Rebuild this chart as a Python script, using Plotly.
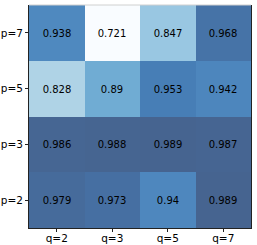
import plotly.graph_objects as go

q_labels = ["q=2", "q=3", "q=5", "q=7"]
p_labels = ["p=2", "p=3", "p=5", "p=7"]
row_p2 = [0.979, 0.973, 0.94, 0.989]
row_p3 = [0.986, 0.988, 0.989, 0.987]
row_p5 = [0.828, 0.89, 0.953, 0.942]
row_p7 = [0.938, 0.721, 0.847, 0.968]

z = [row_p2, row_p3, row_p5, row_p7]
text = [[str(v) for v in r] for r in z]

blues = ["#f7fbff", "#deebf7", "#c6dbef", "#9ecae1", "#6baed6",
         "#4292c6", "#2171b5", "#08519c", "#08306b"]
alpha = 0.75
def blend(h):
    r, g, b = int(h[1:3], 16), int(h[3:5], 16), int(h[5:7], 16)
    f = lambda c: round((1 - alpha) * 255 + alpha * c)
    return f"rgb({f(r)},{f(g)},{f(b)})"
colorscale = [[i / 8, blend(c)] for i, c in enumerate(blues)]

fig = go.Figure(go.Heatmap(
    x=q_labels, y=p_labels, z=z, text=text, texttemplate="%{text}",
    textfont=dict(color="black", size=10, family="DejaVu Sans"),
    colorscale=colorscale, showscale=False, xgap=0, ygap=0, hoverinfo="skip",
))
fig.update_layout(
    width=257, height=245, margin=dict(l=29, r=6, t=5, b=17, autoexpand=False),
    paper_bgcolor="white", plot_bgcolor="white",
    font=dict(family="DejaVu Sans", size=10, color="black"),
    shapes=[dict(type="line", xref="paper", yref="paper", x0=0, x1=1, y0=1, y1=1,
                 line=dict(color="#d0d0d0", width=1))],
)
fig.update_xaxes(showline=True, linecolor="#222", linewidth=1, ticks="outside",
                 ticklen=3, tickcolor="#222", showgrid=False, tickfont=dict(size=10.5),
                 automargin=False, ticklabelstandoff=-3)
fig.update_yaxes(showline=True, mirror=True, linecolor="#222", linewidth=1, ticks="outside",
                 ticklen=3, tickcolor="#222", showgrid=False, tickfont=dict(size=10.5),
                 automargin=False)
fig.write_html("out.html", config={"displayModeBar": False},
               post_script="document.body.style.margin='0';document.body.style.padding='0';")
